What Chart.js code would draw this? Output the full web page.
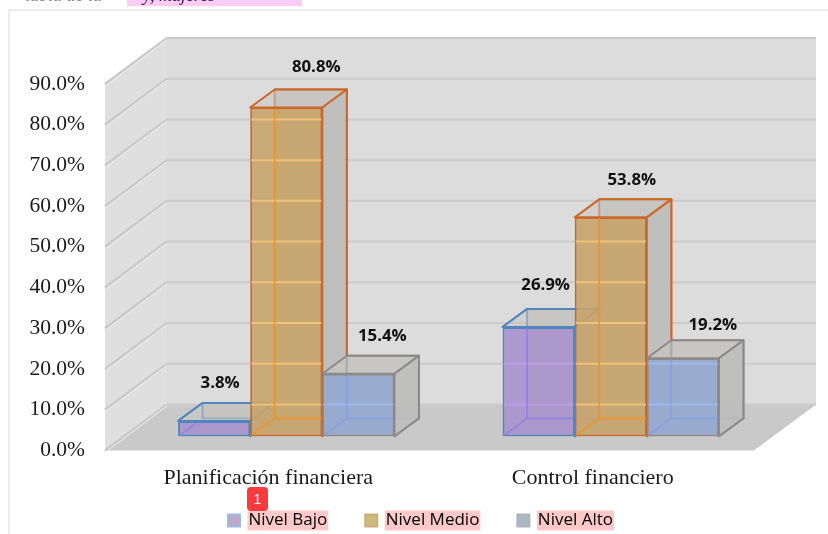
<!DOCTYPE html>
<html lang="es">
<head>
<meta charset="utf-8">
<title>Nivel por dimensión</title>
<script src="https://cdn.jsdelivr.net/npm/chart.js@4"></script>
<style>
html,body{margin:0;padding:0;background:#fff;overflow:hidden;width:828px;height:534px}
#page{position:relative;width:828px;height:534px;overflow:hidden;filter:blur(0.45px)}
#frame{position:absolute;left:8px;top:9px;width:830px;height:540px;border:2px solid #ececec;box-sizing:border-box}
#chart{position:absolute;left:0;top:0}
#head{position:absolute;left:25px;top:-15px;height:21px;line-height:21px;font:italic 18px "Liberation Serif";white-space:nowrap;color:#3a1a3a}
#head span.m{position:absolute;left:102px;top:0;width:175px;height:21px;background:#f9cbf6;overflow:hidden;padding-left:16px;box-sizing:border-box}
#head span.g{color:#888}
#badge{position:absolute;left:247px;top:487px;width:21px;height:24px;border-radius:4px;background:#ff3a3a;color:#fff;font:14px/24px "Liberation Sans";text-align:center}
</style>
</head>
<body>
<div id="page">
  <div id="frame"></div>
  <div id="head"><span class="g">tabla de la</span><span class="m">y, mujeres</span></div>
  <canvas id="chart" width="828" height="534"></canvas>
  <div id="badge">1</div>
</div>
<script>
const categories = ['Planificación financiera', 'Control financiero'];
const seriesNames = ['Nivel Bajo', 'Nivel Medio', 'Nivel Alto'];
const nivelBajo = [3.8, 26.9];
const nivelMedio = [80.8, 53.8];
const nivelAlto = [15.4, 19.2];
const seriesValues = [nivelBajo, nivelMedio, nivelAlto];

// styling, kept apart from the data
const frontFill = ['rgba(168,146,204,0.9)', 'rgba(198,164,106,0.9)', 'rgba(148,168,208,0.9)'];
const edgeColor = ['#4f86bd', '#c8692a', '#8a8a8a'];
const glowColor = ['rgba(195,160,240,0.75)', 'rgba(250,200,120,0.8)', 'rgba(160,190,245,0.75)'];
const innerEdge = ['rgba(130,130,235,0.7)', 'rgba(238,150,40,0.9)', 'rgba(130,160,235,0.7)'];
const legendFill = ['#bfa8c8', '#c9bd7c', '#a6b9c6'];
const legendEdge = ['#9dbbdc', '#d1ab7c', '#b4b4b4'];
const labelNudge = [[[6, -38], [7, -42]], [[30, -40], [21, -37]], [[24, -37], [30, -33]]];

const DEPTH = { front: { dx: -19, dy: 14 }, back: { dx: 43, dy: -32 }, bar: { dx: 24.5, dy: -18 } };
const LEGEND_SHIFT = { x: 22, top: 474 };

function poly(ctx, pts, fill, stroke, lw) {
  ctx.beginPath();
  pts.forEach((p, i) => i ? ctx.lineTo(p[0], p[1]) : ctx.moveTo(p[0], p[1]));
  ctx.closePath();
  if (fill) { ctx.fillStyle = fill; ctx.fill(); }
  if (stroke) { ctx.strokeStyle = stroke; ctx.lineWidth = lw || 2; ctx.lineJoin = 'round'; ctx.stroke(); }
}
function seg(ctx, x1, y1, x2, y2, c, lw) {
  ctx.beginPath(); ctx.moveTo(x1, y1); ctx.lineTo(x2, y2);
  ctx.strokeStyle = c; ctx.lineWidth = lw; ctx.stroke();
}

const box3d = {
  id: 'box3d',
  afterLayout(chart) {
    const lg = chart.legend, h = lg.bottom - lg.top;
    lg.left += LEGEND_SHIFT.x; lg.right += LEGEND_SHIFT.x;
    lg.top = LEGEND_SHIFT.top; lg.bottom = LEGEND_SHIFT.top + h;
  },
  beforeDraw(chart) {
    const ctx = chart.ctx, o = chart.options.plugins.legend.labels, fs = o.font.size;
    ctx.save();
    ctx.fillStyle = '#ffc9c9';
    (chart.legend.legendHitBoxes || []).forEach(h => {
      const x = h.left + o.boxWidth + fs / 2 - 1;
      ctx.fillRect(x, h.top + h.height / 2 - 10, h.left + h.width - x + 1, 20);
    });
    ctx.restore();
  },
  beforeDatasetsDraw(chart) {
    const ctx = chart.ctx, a = chart.chartArea, y = chart.scales.y;
    const F = DEPTH.front, B = DEPTH.back, D = DEPTH.bar;
    const y0 = y.getPixelForValue(0), yT = y.getPixelForValue(90);
    ctx.save();
    // walls and floor
    poly(ctx, [[a.left + F.dx, y0 + F.dy], [a.left + B.dx, y0 + B.dy], [a.left + B.dx, yT + B.dy], [a.left + F.dx, yT + F.dy]], '#dfdfdf');
    poly(ctx, [[a.left + B.dx, y0 + B.dy], [a.right + B.dx, y0 + B.dy], [a.right + B.dx, yT + B.dy], [a.left + B.dx, yT + B.dy]], '#dcdcdc');
    poly(ctx, [[a.left + F.dx, y0 + F.dy], [a.left + B.dx, y0 + B.dy], [a.right + B.dx, y0 + B.dy], [a.right + F.dx, y0 + F.dy]], '#c9c9c9');
    // gridlines along the back and left walls
    y.ticks.forEach(t => {
      const p = y.getPixelForValue(t.value);
      seg(ctx, a.left + B.dx, p + B.dy, a.right + B.dx, p + B.dy, '#cbcbcb', 2);
      seg(ctx, a.left + F.dx, p + F.dy, a.left + B.dx, p + B.dy, '#c9c9c9', 2.5);
      seg(ctx, a.left + F.dx + 1, p + F.dy + 1.5, a.left + B.dx, p + B.dy + 1.5, '#f0f0f0', 1);
    });
    // depth faces of every bar, first series at the back
    chart.data.datasets.forEach((ds, i) => {
      chart.getDatasetMeta(i).data.forEach(bar => {
        const { x, y: top, base, width } = bar.getProps(['x', 'y', 'base', 'width'], true);
        const l = x - width / 2, r = x + width / 2, c = edgeColor[i];
        poly(ctx, [[l + D.dx, top + D.dy], [r + D.dx, top + D.dy], [r + D.dx, base + D.dy], [l + D.dx, base + D.dy]], 'rgba(196,194,191,0.85)', c, 2);
        poly(ctx, [[l, base], [l + D.dx, base + D.dy], [r + D.dx, base + D.dy], [r, base]], 'rgba(190,190,190,0.6)');
        poly(ctx, [[l, top], [l + D.dx, top + D.dy], [r + D.dx, top + D.dy], [r, top]], 'rgba(200,198,195,0.55)', c, 2);
        poly(ctx, [[r, top], [r + D.dx, top + D.dy], [r + D.dx, base + D.dy], [r, base]], 'rgba(190,190,190,0.9)', c, 2);
      });
    });
    ctx.restore();
  },
  afterDatasetsDraw(chart) {
    const ctx = chart.ctx, y = chart.scales.y, D = DEPTH.bar, B = DEPTH.back;
    ctx.save();
    chart.data.datasets.forEach((ds, i) => {
      chart.getDatasetMeta(i).data.forEach((bar, j) => {
        const { x, y: top, base, width } = bar.getProps(['x', 'y', 'base', 'width'], true);
        const l = x - width / 2, r = x + width / 2;
        ctx.save();
        ctx.beginPath(); ctx.rect(l + 1, top + 1, width - 2, base - top - 2); ctx.clip();
        y.ticks.forEach(t => {
          const p = y.getPixelForValue(t.value) + B.dy;
          seg(ctx, l, p, r, p, glowColor[i], 2);
        });
        seg(ctx, l + D.dx, top + D.dy, l + D.dx, base + D.dy, innerEdge[i], 1.6);
        seg(ctx, l + D.dx, base + D.dy, r + D.dx, base + D.dy, innerEdge[i], 1.6);
        seg(ctx, l, base, l + D.dx, base + D.dy, innerEdge[i], 1.6);
        ctx.restore();
        // value label
        const n = labelNudge[i][j];
        ctx.fillStyle = '#111';
        ctx.font = 'bold 16.8px "Open Sans"';
        ctx.textAlign = 'center';
        ctx.textBaseline = 'middle';
        ctx.fillText(seriesValues[i][j].toFixed(1) + '%', x + n[0], top + n[1]);
      });
    });
    ctx.restore();
  }
};

new Chart(document.getElementById('chart'), {
  type: 'bar',
  data: {
    labels: categories,
    datasets: seriesNames.map((name, i) => ({
      label: name,
      data: seriesValues[i],
      backgroundColor: frontFill[i],
      borderColor: edgeColor[i],
      borderWidth: 2,
      borderSkipped: false,
      barPercentage: 1,
      categoryPercentage: 0.6667
    }))
  },
  plugins: [box3d],
  options: {
    responsive: false,
    animation: false,
    layout: { padding: { top: 70, left: 24, right: 55, bottom: -27.4 } },
    scales: {
      x: {
        grid: { display: false },
        border: { display: false },
        afterFit(s) { s.height = 60; },
        ticks: { padding: 21, labelOffset: -18, maxRotation: 0, autoSkip: false, color: '#1a1a1a', font: { family: '"Liberation Serif"', size: 22 } }
      },
      y: {
        min: 0,
        max: 90,
        grid: { display: false, drawTicks: false },
        border: { display: false },
        afterFit(s) { s.width = 100; },
        ticks: {
          stepSize: 10,
          padding: 39,
          labelOffset: 14,
          color: '#1a1a1a',
          font: { family: '"Liberation Serif"', size: 21.5 },
          callback: v => v.toFixed(1) + '%'
        }
      }
    },
    plugins: {
      tooltip: { enabled: false },
      legend: {
        position: 'bottom',
        labels: {
          boxWidth: 12,
          boxHeight: 12,
          padding: 38,
          color: '#4a2222',
          font: { family: '"Open Sans"', size: 17 },
          generateLabels: () => seriesNames.map((name, i) => ({
            text: name, fillStyle: legendFill[i], strokeStyle: legendEdge[i], lineWidth: 2, datasetIndex: i
          }))
        }
      }
    }
  }
});
</script>
</body>
</html>
